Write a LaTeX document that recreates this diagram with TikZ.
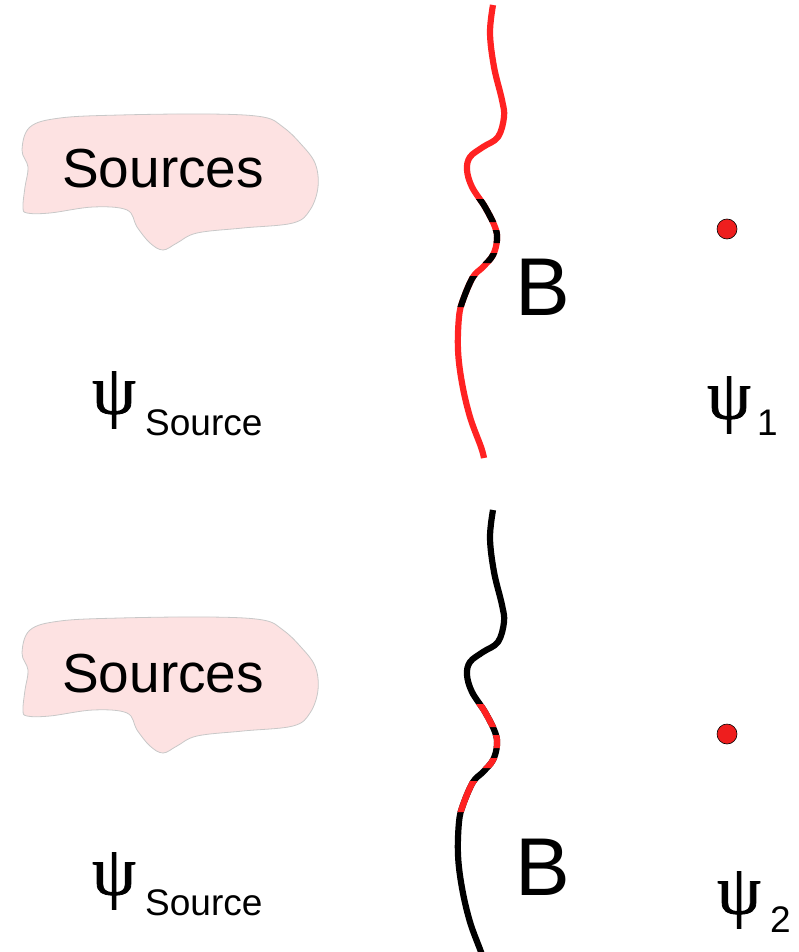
\documentclass[tikz,border=0pt]{standalone}
\usepackage{fontspec}
\setmainfont{Liberation Sans}
\newfontfamily\psifont[FakeBold=1.2]{Liberation Serif}
\definecolor{wred}{RGB}{255,34,34}
\definecolor{dotred}{RGB}{238,30,30}
\definecolor{blobfill}{RGB}{253,226,226}
\definecolor{blobline}{RGB}{200,200,200}
\newcommand\wavepath{plot[smooth, tension=0.6] coordinates{(493,5) (490,33) (494,67) (502,100) (504,117) (498,137) (483,147) (470,157) (467,170) (472,187) (485,207) (495,227) (497,240) (493,255) (483,267) (473,277) (463,300) (459,317) (458,350) (462,383) (470,417) (481,447) (484,458)}}
\newcommand\blobpath{plot[smooth cycle, tension=0.6] coordinates{(30,127) (60,118) (120,115) (210,114) (263,117) (283,127) (300,143) (315,163) (318,187) (310,210) (293,223) (243,228) (197,233) (177,243) (163,250) (150,243) (137,227) (127,210) (93,207) (50,213) (27,213) (23,207) (25,187) (28,167) (22,150)}}
\newcommand\dashclip{\clip (400,199) rectangle (560,222) (400,230) rectangle (560,243) (400,253) rectangle (560,263) (400,276) rectangle (560,307);}
\tikzset{
  wave/.style={line width=6.2pt},
  blob/.style={fill=blobfill, draw=blobline, line width=0.8pt},
  srctext/.style={font=\fontsize{55}{60}\selectfont, anchor=base west, inner sep=0pt},
  btext/.style={font=\fontsize{82}{90}\selectfont, anchor=base west, inner sep=0pt},
  psitext/.style={font=\psifont\fontsize{70}{74}\selectfont, inner sep=0pt},
  subtext/.style={font=\fontsize{37}{42}\selectfont, anchor=base west, inner sep=0pt},
  probe/.style={circle, fill=dotred, draw=black, line width=0.6pt, minimum size=20pt, inner sep=0pt}
}
\begin{document}
\begin{tikzpicture}[x=1pt,y=-1pt]
\useasboundingbox (0,0) rectangle (799,952);
% ---- top panel ----
\draw[blob] \blobpath;
\node[srctext] (src1) at (62,187) {Sources};
\draw[wave, wred] \wavepath;
\begin{scope}
  \dashclip
  \draw[wave, black] \wavepath;
\end{scope}
\node[btext] (b1) at (515,315) {B};
\node[probe] (p1) at (727,229) {};
\node[psitext] (psis1) at (114,400) {ψ};
\node[subtext] (sub1) at (145,435) {Source};
\node[psitext] (psi1) at (729,405) {ψ};
\node[subtext] (n1) at (757,435) {1};
% ---- bottom panel ----
\begin{scope}[shift={(0,503)}]
  \draw[blob] \blobpath;
\end{scope}
\node[srctext] (src2) at (62,692) {Sources};
\begin{scope}[shift={(0,505)}]
  \draw[wave, black] \wavepath;
  \begin{scope}
    \dashclip
    \draw[wave, wred] \wavepath;
  \end{scope}
\end{scope}
\node[btext] (b2) at (515,895) {B};
\node[probe] (p2) at (727,734) {};
\node[psitext] (psis2) at (114,881) {ψ};
\node[subtext] (sub2) at (145,915) {Source};
\node[psitext] (psi2) at (739,900) {ψ};
\node[subtext] (n2) at (770,932) {2};
\end{tikzpicture}
\end{document}
